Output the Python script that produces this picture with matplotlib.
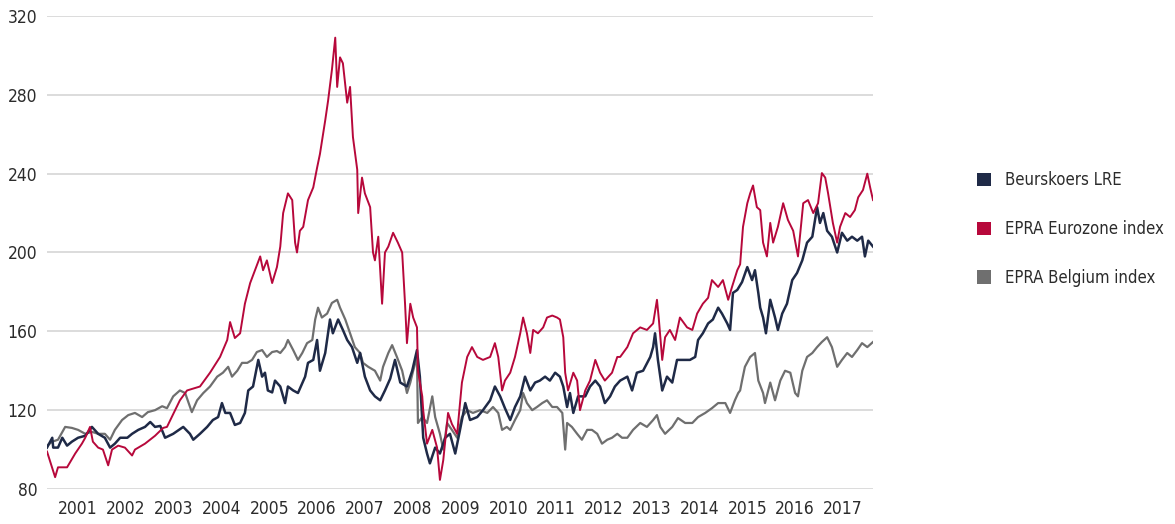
import matplotlib
matplotlib.use("Agg")
import matplotlib.pyplot as plt
from matplotlib import font_manager
from matplotlib.patches import Patch

# the chart uses a narrow sans; pick one if installed, else fall back to Liberation Sans
names = set(f.name for f in font_manager.fontManager.ttflist)
condensed = [f for f in font_manager.fontManager.ttflist
             if f.name == "DejaVu Sans" and f.stretch == "condensed"]
if "Liberation Sans Narrow" in names:
    plt.rcParams['font.family'] = ['Liberation Sans Narrow', 'DejaVu Sans']
    fs, lfs = 13.5, 13.5
elif condensed:
    plt.rcParams['font.family'] = ['DejaVu Sans']
    plt.rcParams['font.stretch'] = 'condensed'
    fs, lfs = 12.5, 12
else:
    plt.rcParams['font.family'] = ['Liberation Sans', 'DejaVu Sans']
    fs, lfs = 12, 11.5

#%%
# data (decimal years, index values)

lre_years = [2000.35, 2000.46, 2000.48, 2000.58, 2000.67, 2000.77, 2000.87, 2001.00, 2001.15, 2001.29,
             2001.42, 2001.56, 2001.67, 2001.77, 2001.88, 2002.03, 2002.13, 2002.26, 2002.40, 2002.51,
             2002.61, 2002.72, 2002.82, 2002.99, 2003.20, 2003.34, 2003.41, 2003.55, 2003.70, 2003.82,
             2003.93, 2004.01, 2004.08, 2004.18, 2004.28, 2004.39, 2004.49, 2004.56, 2004.66, 2004.77,
             2004.85, 2004.91, 2004.97, 2005.06, 2005.12, 2005.23, 2005.33, 2005.39, 2005.50, 2005.60,
             2005.75, 2005.81, 2005.92, 2006.00, 2006.06, 2006.17, 2006.27, 2006.33, 2006.44, 2006.54,
             2006.63, 2006.73, 2006.84, 2006.90, 2007.00, 2007.11, 2007.21, 2007.32, 2007.42, 2007.53,
             2007.63, 2007.74, 2007.88, 2007.99, 2008.09, 2008.15, 2008.22, 2008.30, 2008.36, 2008.47,
             2008.57, 2008.68, 2008.78, 2008.89, 2008.99, 2009.10, 2009.20, 2009.35, 2009.47, 2009.62,
             2009.72, 2009.83, 2009.93, 2010.04, 2010.14, 2010.25, 2010.35, 2010.46, 2010.56, 2010.66,
             2010.77, 2010.87, 2010.98, 2011.08, 2011.15, 2011.23, 2011.29, 2011.36, 2011.46, 2011.61,
             2011.71, 2011.82, 2011.92, 2012.02, 2012.13, 2012.23, 2012.34, 2012.49, 2012.59, 2012.69,
             2012.82, 2012.97, 2013.03, 2013.07, 2013.13, 2013.22, 2013.32, 2013.43, 2013.53, 2013.66,
             2013.80, 2013.91, 2013.97, 2014.07, 2014.18, 2014.28, 2014.39, 2014.47, 2014.58, 2014.64,
             2014.70, 2014.79, 2014.89, 2015.00, 2015.10, 2015.16, 2015.23, 2015.27, 2015.33, 2015.39,
             2015.48, 2015.58, 2015.64, 2015.73, 2015.83, 2015.94, 2016.04, 2016.15, 2016.25, 2016.36,
             2016.46, 2016.52, 2016.59, 2016.67, 2016.77, 2016.88, 2016.98, 2017.09, 2017.19, 2017.30,
             2017.40, 2017.46, 2017.53, 2017.63]
lre_values = [101, 106, 101, 101, 106, 102, 104, 106, 107, 111.5,
              108, 106, 101, 103, 106, 106, 108, 110, 111.5, 114,
              111.5, 112, 106, 108, 111.5, 108, 105, 108, 111.5, 115,
              116.5, 123.6, 118.6, 118.6, 112.5, 113.5, 118.6, 130, 132, 145.5,
              137, 139, 130, 129, 135, 132, 123.6, 132, 130, 128.7,
              137, 144, 145.5, 155.6, 140, 149, 166, 159, 166, 160.7,
              155.6, 152, 144, 149, 137, 130, 127, 125, 130, 136,
              145.5, 134, 132, 140, 150.5, 137, 106, 98, 93, 101,
              98, 106, 108, 98, 110, 123.6, 115, 116.5, 120, 125,
              132, 127, 121, 115, 121.6, 127, 137, 130, 134, 135,
              137, 135, 139, 137, 132, 121.6, 128.7, 118.6, 127, 127,
              132, 135, 132, 123.6, 127, 132, 135, 137, 130, 139,
              140, 147, 152, 159, 145.5, 130, 137, 134, 145.5, 145.5,
              145.5, 147, 155.6, 159, 164, 166, 172, 169, 164, 160.7,
              179.5, 181, 185, 192.6, 186, 191, 179.5, 172, 167, 159,
              176, 167, 160.7, 169, 174, 186, 189.6, 196, 205, 208,
              223, 215, 220, 211, 208, 200, 210, 206, 208, 206,
              208, 198, 206, 203]

eurozone_years = [2000.35, 2000.52, 2000.58, 2000.77, 2000.94, 2001.08, 2001.15, 2001.25, 2001.31, 2001.42,
                  2001.52, 2001.63, 2001.71, 2001.84, 2001.98, 2002.13, 2002.19, 2002.40, 2002.61, 2002.78,
                  2002.86, 2003.13, 2003.28, 2003.55, 2003.76, 2003.97, 2004.12, 2004.18, 2004.28, 2004.39,
                  2004.49, 2004.60, 2004.70, 2004.81, 2004.87, 2004.95, 2005.06, 2005.16, 2005.23, 2005.29,
                  2005.39, 2005.48, 2005.54, 2005.58, 2005.64, 2005.71, 2005.81, 2005.92, 2006.00, 2006.06,
                  2006.17, 2006.23, 2006.31, 2006.38, 2006.42, 2006.48, 2006.54, 2006.63, 2006.69, 2006.75,
                  2006.84, 2006.86, 2006.94, 2007.00, 2007.11, 2007.17, 2007.21, 2007.28, 2007.36, 2007.42,
                  2007.49, 2007.59, 2007.69, 2007.78, 2007.84, 2007.88, 2007.95, 2008.01, 2008.09, 2008.11,
                  2008.20, 2008.22, 2008.30, 2008.41, 2008.51, 2008.57, 2008.64, 2008.74, 2008.82, 2008.93,
                  2009.03, 2009.14, 2009.24, 2009.35, 2009.47, 2009.62, 2009.72, 2009.79, 2009.87, 2009.93,
                  2010.04, 2010.14, 2010.25, 2010.31, 2010.39, 2010.46, 2010.52, 2010.62, 2010.73, 2010.81,
                  2010.92, 2011.02, 2011.08, 2011.15, 2011.19, 2011.25, 2011.36, 2011.44, 2011.50, 2011.61,
                  2011.71, 2011.82, 2011.92, 2012.02, 2012.17, 2012.28, 2012.34, 2012.49, 2012.61, 2012.76,
                  2012.90, 2013.03, 2013.11, 2013.15, 2013.22, 2013.28, 2013.38, 2013.49, 2013.59, 2013.74,
                  2013.85, 2013.95, 2014.07, 2014.18, 2014.26, 2014.39, 2014.49, 2014.60, 2014.68, 2014.79,
                  2014.85, 2014.91, 2015.00, 2015.06, 2015.12, 2015.20, 2015.27, 2015.33, 2015.41, 2015.48,
                  2015.54, 2015.64, 2015.75, 2015.85, 2015.96, 2016.06, 2016.17, 2016.27, 2016.38, 2016.48,
                  2016.56, 2016.63, 2016.69, 2016.79, 2016.88, 2016.94, 2017.05, 2017.15, 2017.25, 2017.32,
                  2017.42, 2017.51, 2017.57, 2017.63]
eurozone_values = [99, 86, 91, 91, 98, 103, 106, 111.5, 104, 101,
                   100, 92, 100, 102, 101, 97, 100, 103, 107, 111,
                   111.5, 125, 130, 132, 139, 147, 155.6, 164.7, 156.6, 159,
                   174, 184.5, 191, 198, 191, 196, 184.5, 192.6, 203, 220,
                   230, 226.6, 205, 200, 211, 213, 226.6, 233, 243, 250,
                   267, 277, 292.6, 309, 284, 299, 296, 276, 284, 258.6,
                   242, 220, 238, 230, 223, 200, 196, 208, 174, 200,
                   203, 210, 205, 200, 174, 154, 174, 167, 162, 140,
                   127, 120, 103, 110, 101, 84.6, 94.7, 118.6, 113, 108,
                   134, 147, 152, 147, 145.5, 147, 154, 147, 130, 135,
                   139, 147, 159, 167, 159, 149, 160.7, 159, 162, 167,
                   168, 167, 166, 157, 139, 130, 139, 135, 120, 130,
                   135, 145.5, 139, 135, 139, 147, 147, 152, 159, 162,
                   160.7, 164, 176, 166, 145.5, 157, 160.7, 155.6, 167, 162,
                   160.7, 169, 174, 177, 186, 182.5, 186, 176, 182.5, 191,
                   194, 213, 225, 230, 234, 223, 221.5, 205, 198, 215,
                   205, 213, 225, 216.5, 211, 198, 225, 226.6, 220, 225,
                   240.3, 238, 230, 215, 205, 213, 220, 218, 221.5, 228,
                   231.7, 240, 233, 226.6]

belgium_years = [2000.35, 2000.46, 2000.58, 2000.73, 2000.87, 2001.00, 2001.15, 2001.29, 2001.42, 2001.56,
                 2001.67, 2001.77, 2001.92, 2002.05, 2002.19, 2002.34, 2002.46, 2002.61, 2002.76, 2002.86,
                 2002.99, 2003.13, 2003.24, 2003.38, 2003.49, 2003.62, 2003.76, 2003.91, 2004.03, 2004.14,
                 2004.22, 2004.33, 2004.43, 2004.54, 2004.64, 2004.74, 2004.85, 2004.95, 2005.06, 2005.16,
                 2005.23, 2005.33, 2005.39, 2005.50, 2005.60, 2005.69, 2005.79, 2005.90, 2005.96, 2006.02,
                 2006.10, 2006.21, 2006.31, 2006.42, 2006.48, 2006.59, 2006.69, 2006.79, 2006.90, 2006.96,
                 2007.07, 2007.21, 2007.32, 2007.38, 2007.49, 2007.57, 2007.67, 2007.78, 2007.88, 2007.95,
                 2008.01, 2008.09, 2008.11, 2008.20, 2008.30, 2008.41, 2008.47, 2008.57, 2008.64, 2008.72,
                 2008.82, 2008.93, 2009.03, 2009.14, 2009.26, 2009.41, 2009.56, 2009.68, 2009.79, 2009.87,
                 2009.97, 2010.04, 2010.14, 2010.25, 2010.31, 2010.39, 2010.50, 2010.60, 2010.71, 2010.81,
                 2010.92, 2011.02, 2011.13, 2011.19, 2011.23, 2011.33, 2011.44, 2011.54, 2011.65, 2011.75,
                 2011.86, 2011.96, 2012.07, 2012.17, 2012.28, 2012.38, 2012.49, 2012.61, 2012.76, 2012.90,
                 2013.03, 2013.11, 2013.18, 2013.28, 2013.43, 2013.55, 2013.70, 2013.85, 2013.97, 2014.12,
                 2014.26, 2014.39, 2014.54, 2014.64, 2014.74, 2014.81, 2014.85, 2014.89, 2014.95, 2015.06,
                 2015.16, 2015.23, 2015.33, 2015.37, 2015.48, 2015.58, 2015.69, 2015.79, 2015.90, 2016.00,
                 2016.06, 2016.15, 2016.25, 2016.36, 2016.46, 2016.56, 2016.67, 2016.77, 2016.88, 2016.98,
                 2017.09, 2017.19, 2017.30, 2017.40, 2017.51, 2017.63]
belgium_values = [102, 104, 105, 111.5, 111, 110, 108, 109, 108, 108,
                  105, 110, 115, 117.5, 118.6, 116.5, 119, 120, 122, 121,
                  127, 130, 128.7, 119, 125, 128.7, 132, 137, 139, 142,
                  137, 140, 144, 144, 145.5, 149.5, 150.5, 147, 149.5, 150,
                  149, 152, 155.6, 150.5, 145.5, 149, 154, 155.6, 166, 172,
                  167, 169, 174.4, 176, 172, 166, 159, 152, 149, 144,
                  142, 140, 135, 142, 149, 153, 147, 140, 128.7, 134,
                  140, 147, 113.5, 116.5, 113.5, 127, 116.5, 108, 100, 113.5,
                  110, 106, 116.5, 120, 118.6, 120, 118.6, 121.6, 118.6, 110,
                  111.5, 110, 115, 120, 128.7, 123.6, 120, 121.6, 123.6, 125,
                  121.6, 121.6, 118.6, 100, 113.5, 111.5, 108, 105, 110, 110,
                  108, 103, 105, 106, 108, 106, 106, 110, 113.5, 111.5,
                  115, 117.5, 111.5, 108, 111.5, 116, 113.5, 113.5, 116.5, 118.6,
                  121, 123.6, 123.6, 118.6, 125, 128.7, 130, 135, 142, 147,
                  149, 135, 128.7, 123.6, 134, 125, 135, 140, 139, 128.7,
                  127, 140, 147, 149, 152, 154.6, 157, 152, 142, 145.5,
                  149, 147, 150.5, 154, 152, 154.6]

series_labels = ["Beurskoers LRE", "EPRA Eurozone index", "EPRA Belgium index"]
year_ticks = list(range(2001, 2018))
y_ticks = [80, 120, 160, 200, 240, 280, 320]

#%%
# plot

navy = "#1f2a47"
red = "#b7083b"
grey = "#6f6f6f"
text_col = "#2b2b2b"

fig = plt.figure(figsize=(11.75, 5.24), dpi=100)
ax = fig.add_axes([0.04, 0.0668, 0.703, 0.9027])

ax.plot(belgium_years, belgium_values, c=grey, lw=1.6, zorder=2)
ax.plot(lre_years, lre_values, c=navy, lw=1.8, zorder=3)
ax.plot(eurozone_years, eurozone_values, c=red, lw=1.4, zorder=4)

ax.set_xlim(2000.35, 2017.63)
ax.set_ylim(80, 320)
ax.set_yticks(y_ticks)
ax.set_xticks(year_ticks)
ax.set_xticklabels([str(y) for y in year_ticks])
ax.grid(visible=True, axis="y", color="#d9d9d9", lw=1.3)
ax.set_axisbelow(True)
for s in ax.spines.values():
    s.set_visible(False)
ax.tick_params(axis="both", length=0, labelsize=fs, colors=text_col)
ax.tick_params(axis="y", pad=7)
ax.tick_params(axis="x", pad=8)

handles = [Patch(facecolor=navy), Patch(facecolor=red), Patch(facecolor=grey)]
leg = fig.legend(handles, series_labels, loc="center left", bbox_to_anchor=(0.819, 0.563),
                 frameon=False, handlelength=0.85, handleheight=0.85, handletextpad=0.8,
                 labelspacing=1.85, fontsize=lfs)
for t in leg.get_texts():
    t.set_color(text_col)

fig.savefig("out.png", dpi=100)
